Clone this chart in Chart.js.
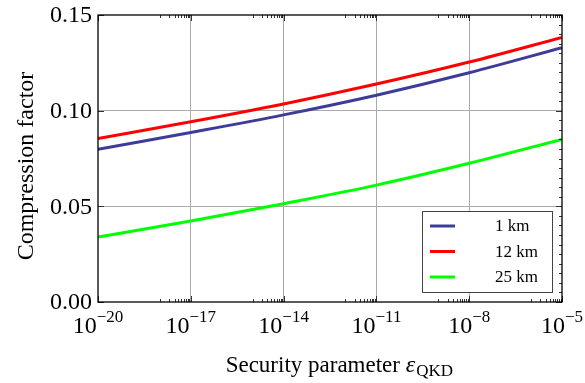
<!DOCTYPE html>
<html><head><meta charset="utf-8">
<script src="https://cdn.jsdelivr.net/npm/chart.js@4/dist/chart.umd.min.js"></script>
<style>html,body{margin:0;padding:0;background:#fff}#wrap{width:585px;height:383px;position:relative}</style>
</head><body><div id="wrap"><canvas id="c" width="585" height="383"></canvas></div>
<script>
// ---- data ----
const epsilonExponents = [-20, -17, -14, -11, -8, -5];
const series1km  = [0.0798, 0.0886, 0.0978, 0.1081, 0.1198, 0.1329];
const series12km = [0.0855, 0.0942, 0.1035, 0.1139, 0.1254, 0.1383];
const series25km = [0.0340, 0.0423, 0.0514, 0.0611, 0.0725, 0.0850];
const seriesLabels = ['1 km', '12 km', '25 km'];
const xTickExponents = [-20, -17, -14, -11, -8, -5];
const yTickValues = [0.00, 0.05, 0.10, 0.15];
const yTickLabels = ['0.00', '0.05', '0.10', '0.15'];
const xTitle = 'Security parameter ';
const xTitleSymbol = 'ε';
const xTitleSub = 'QKD';
const yTitle = 'Compression factor';

const colors = ['rgb(61,61,153)', '#ff0000', '#00ff00'];
const SERIF = '"Liberation Serif", "DejaVu Serif", serif';

function toPoints(vals) {
  return epsilonExponents.map((e, i) => ({ x: Math.pow(10, e), y: vals[i] }));
}

const framePlugin = {
  id: 'framePlugin',
  afterDatasetsDraw(chart) {
    const ctx = chart.ctx;
    const a = chart.chartArea;
    const xs = chart.scales.x, ys = chart.scales.y;
    ctx.save();
    // ticks
    ctx.strokeStyle = '#333';
    ctx.lineWidth = 1;
    const vline = (x, y0, y1) => { ctx.beginPath(); ctx.moveTo(Math.round(x) + 0.5, y0); ctx.lineTo(Math.round(x) + 0.5, y1); ctx.stroke(); };
    const hline = (y, x0, x1) => { ctx.beginPath(); ctx.moveTo(x0, Math.round(y) + 0.5); ctx.lineTo(x1, Math.round(y) + 0.5); ctx.stroke(); };
    xTickExponents.forEach((e, idx) => {
      const px = xs.getPixelForValue(Math.pow(10, e));
      vline(px, a.bottom, a.bottom - 6);
      vline(px, a.top, a.top + 6);
      if (idx > 0) {
        for (let k = 1; k <= 9; k++) {
          const mx = xs.getPixelForValue(k * Math.pow(10, e - 1));
          vline(mx, a.bottom, a.bottom - 3);
          vline(mx, a.top, a.top + 3);
        }
      }
    });
    yTickValues.forEach(v => {
      const py = ys.getPixelForValue(v);
      hline(py, a.left, a.left + 6);
      hline(py, a.right, a.right - 6);
    });
    for (let i = 0; i <= 30; i++) {
      const py = ys.getPixelForValue(i * 0.005);
      hline(py, a.right, a.right - 3);
    }
    // frame
    ctx.strokeStyle = '#000';
    ctx.lineWidth = 1.3;
    ctx.strokeRect(a.left, a.top, a.right - a.left, a.bottom - a.top);

    // legend
    const lx0 = 422, ly0 = 211, lx1 = 552, ly1 = 292;
    ctx.fillStyle = '#fff';
    ctx.fillRect(lx0, ly0, lx1 - lx0, ly1 - ly0);
    ctx.strokeStyle = '#444';
    ctx.lineWidth = 1;
    ctx.strokeRect(lx0 + 0.5, ly0 + 0.5, lx1 - lx0, ly1 - ly0);
    ctx.font = '17px ' + SERIF;
    ctx.textBaseline = 'middle';
    ctx.textAlign = 'left';
    chart.data.datasets.forEach((ds, i) => {
      const yy = 226 + i * 25.5;
      ctx.strokeStyle = ds.borderColor;
      ctx.lineWidth = 3;
      ctx.beginPath(); ctx.moveTo(430, yy); ctx.lineTo(455, yy); ctx.stroke();
      ctx.fillStyle = '#000';
      ctx.fillText(ds.label, 495, yy + 1);
    });

    // y tick labels
    ctx.fillStyle = '#000';
    ctx.font = '24px ' + SERIF;
    ctx.textAlign = 'right';
    ctx.textBaseline = 'middle';
    ys.ticks.forEach((t, i) => {
      const py = ys.getPixelForValue(t.value);
      ctx.fillText(yTickLabels[i], a.left - 6, py + 1);
    });
    // x tick labels: base "10" with superscript exponent
    ctx.textBaseline = 'alphabetic';
    ctx.textAlign = 'left';
    xs.ticks.forEach((t) => {
      const px = xs.getPixelForValue(t.value);
      const e = Math.round(Math.log10(t.value));
      const base = '10', exp = '\u2212' + Math.abs(e);
      ctx.font = '24px ' + SERIF;
      const wb = ctx.measureText(base).width;
      ctx.font = '17px ' + SERIF;
      const we = ctx.measureText(exp).width;
      const x0 = px - (wb + we) / 2;
      ctx.font = '24px ' + SERIF;
      ctx.fillText(base, x0, 333);
      ctx.font = '17px ' + SERIF;
      ctx.fillText(exp, x0 + wb, 322);
    });
    // x title
    ctx.font = '23px ' + SERIF;
    const w1 = ctx.measureText(xTitle).width;
    ctx.font = 'italic 24px ' + SERIF;
    const w2 = ctx.measureText(xTitleSymbol).width;
    ctx.font = '17px ' + SERIF;
    const w3 = ctx.measureText(xTitleSub).width;
    let tx = 453 - (w1 + w2 + w3 + 1);
    const ty = 372;
    ctx.font = '23px ' + SERIF; ctx.fillText(xTitle, tx, ty); tx += w1;
    ctx.font = 'italic 24px ' + SERIF; ctx.fillText(xTitleSymbol, tx, ty); tx += w2 + 1;
    ctx.font = '17px ' + SERIF; ctx.fillText(xTitleSub, tx, ty + 4);
    // y title
    ctx.save();
    ctx.translate(33, 166);
    ctx.rotate(-Math.PI / 2);
    ctx.font = '24px ' + SERIF;
    ctx.textAlign = 'center';
    ctx.textBaseline = 'alphabetic';
    ctx.fillText(yTitle, 0, 0);
    ctx.restore();
    ctx.restore();
  }
};

const gridColor = () => (c) => {
  const n = c.scale.ticks.length;
  if (c.index === 0 || c.index === n - 1) return 'rgba(0,0,0,0)';
  return '#aaaaaa';
};

new Chart(document.getElementById('c'), {
  type: 'line',
  data: {
    datasets: [
      { label: seriesLabels[0], data: toPoints(series1km),  borderColor: colors[0] },
      { label: seriesLabels[1], data: toPoints(series12km), borderColor: colors[1] },
      { label: seriesLabels[2], data: toPoints(series25km), borderColor: colors[2] }
    ].map(d => Object.assign(d, { borderWidth: 3, pointRadius: 0, fill: false, cubicInterpolationMode: 'monotone' }))
  },
  options: {
    responsive: false,
    devicePixelRatio: 1,
    animation: false,
    layout: { padding: { left: 98, top: 15, right: 23, bottom: 81 } },
    plugins: { legend: { display: false }, tooltip: { enabled: false } },
    scales: {
      x: {
        type: 'logarithmic', min: 1e-20, max: 1e-5,
        afterBuildTicks: (s) => { s.ticks = xTickExponents.map(e => ({ value: Math.pow(10, e) })); },
        ticks: { display: false },
        grid: { color: gridColor(), drawTicks: false, lineWidth: 1 },
        border: { display: false }
      },
      y: {
        type: 'linear', min: 0, max: 0.15,
        afterBuildTicks: (s) => { s.ticks = yTickValues.map(v => ({ value: v })); },
        ticks: { display: false },
        grid: { color: gridColor(), drawTicks: false, lineWidth: 1 },
        border: { display: false }
      }
    }
  },
  plugins: [framePlugin]
});
</script>
</body></html>
